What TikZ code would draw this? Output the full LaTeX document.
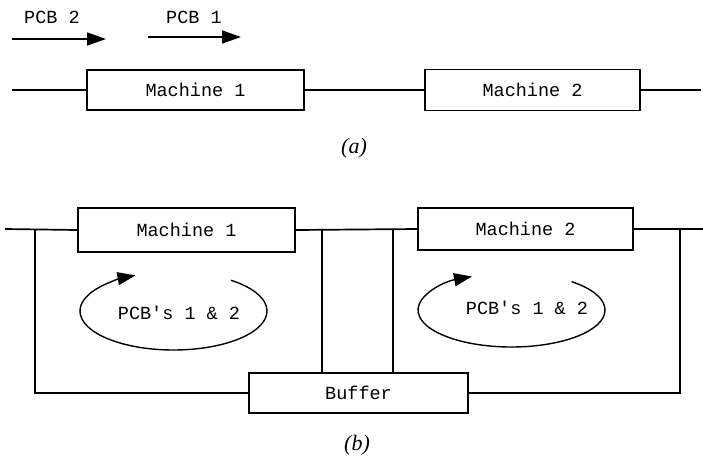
\documentclass[tikz,border=0pt]{standalone}
\usepackage{fontspec}
\setmainfont{Liberation Serif}
\newfontfamily\cour{Liberation Mono}
\usetikzlibrary{arrows.meta}
\begin{document}
\begin{tikzpicture}[x=1pt,y=-1pt,
  lbl/.style={font=\cour\fontsize{18.5}{21}\selectfont, inner sep=0pt},
  mbox/.style={draw, line width=1.8pt, font=\cour\fontsize{18.5}{21}\selectfont, inner sep=0pt},
  wire/.style={line width=1.7pt},
  bigtip/.style={-{Triangle[length=19pt,width=13pt]}},
  looptip/.style={-{Triangle[length=18pt,width=13pt]}},
  figcap/.style={font=\itshape\fontsize{22}{24}\selectfont, inner sep=0pt}]
\useasboundingbox (0,0) rectangle (703,461);
% ---------- (a) ----------
\node[lbl] (p2) at (52,17) {PCB 2};
\node[lbl] (p1) at (194,17) {PCB 1};
\coordinate (p2s) at (12,39);  \coordinate (p2e) at (106,39);
\coordinate (p1s) at (148,37); \coordinate (p1e) at (241,37);
\draw[wire,bigtip] (p2s) -- (p2e);
\draw[wire,bigtip] (p1s) -- (p1e);
\node[mbox, minimum width=217pt, minimum height=40pt] (m1a) at (195.5,90) {Machine 1};
\node[mbox, minimum width=215pt, minimum height=41pt] (m2a) at (532.5,90) {Machine 2};
\coordinate (ain) at (12,90);
\coordinate (aout) at (701,90);
\draw[wire] (ain) -- (m1a.west);
\draw[wire] (m1a.east) -- (m2a.west);
\draw[wire] (m2a.east) -- (aout);
\node[figcap] (capa) at (354,148) {(a)};
% ---------- (b) ----------
\node[mbox, minimum width=217pt, minimum height=44pt] (m1b) at (186.5,230) {Machine 1};
\node[mbox, minimum width=215pt, minimum height=42pt] (m2b) at (525.5,229) {Machine 2};
\node[mbox, minimum width=219pt, minimum height=40pt] (buf) at (358.5,393) {Buffer};
\coordinate (bin) at (5,229);
\coordinate (bout) at (703,229);
\draw[wire] (bin) -- (m1b.west);
\draw[wire] (m1b.east) -- (m2b.west);
\draw[wire] (m2b.east) -- (bout);
\coordinate (lt) at (35,229);
\coordinate (rt) at (680,229);
\coordinate (v1) at (322,229);
\coordinate (v2) at (393,229);
\draw[wire] (lt) |- (buf.west);
\draw[wire] (rt) |- (buf.east);
\draw[wire] (v1) -- (v1 |- buf.north);
\draw[wire] (v2) -- (v2 |- buf.north);
% loops
\coordinate (c1) at (173.5,311);
\coordinate (c2) at (511.5,310);
\draw[line width=1.4pt,looptip] (c1) ++(52:93.5pt and 39pt)
  arc[start angle=52, end angle=-246, x radius=93.5pt, y radius=39pt];
\draw[line width=1.4pt,looptip] (c2) ++(50:93.5pt and 37pt)
  arc[start angle=50, end angle=-245, x radius=93.5pt, y radius=37pt];
\node[lbl] (t1) at (179,313) {PCB\textquotesingle s 1 \& 2};
\node[lbl] (t2) at (527,308) {PCB\textquotesingle s 1 \& 2};
\node[figcap] (capb) at (357,445) {(b)};
\end{tikzpicture}
\end{document}
